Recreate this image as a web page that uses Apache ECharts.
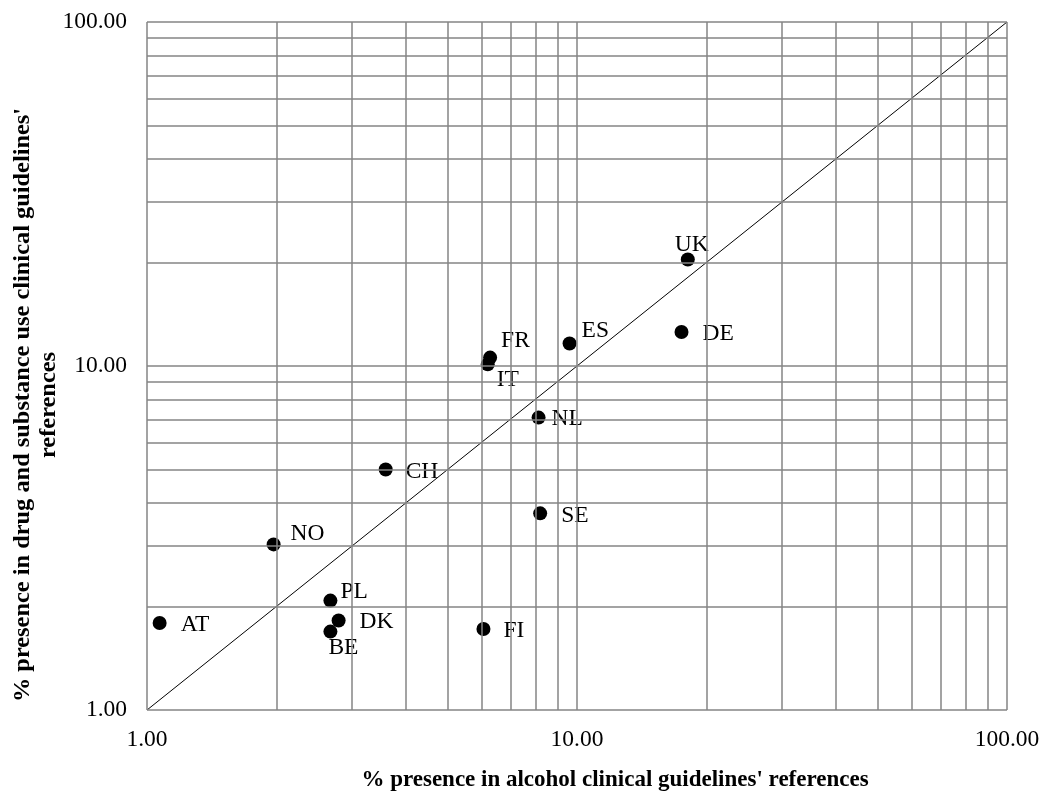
<!DOCTYPE html>
<html>
<head>
<meta charset="utf-8">
<script src="https://cdn.jsdelivr.net/npm/echarts@6/dist/echarts.min.js"></script>
<style>
html,body{margin:0;padding:0;background:#fff;}
#c{width:1045px;height:798px;}
</style>
</head>
<body>
<div id="c"></div>
<script>
// ---- data ----
const countries = ['UK','DE','ES','FR','IT','NL','CH','SE','NO','PL','DK','BE','AT','FI'];
const alcoholPct = [18.1, 17.5, 9.61, 6.28, 6.20, 8.14, 3.59, 8.21, 1.97, 2.67, 2.79, 2.67, 1.07, 6.06];
const drugPct    = [20.4, 12.56, 11.62, 10.58, 10.11, 7.08, 5.00, 3.73, 3.03, 2.08, 1.82, 1.69, 1.79, 1.72];
const diagonalX = [1, 100];
const diagonalY = [1, 100];
const gridValues = [1,2,3,4,5,6,7,8,9,10,20,30,40,50,60,70,80,90,100];
const xTitle = "% presence in alcohol clinical guidelines' references";
const yTitle = "% presence in drug and substance use clinical guidelines'\nreferences";

// ---- label placement (style, separate from data) ----
const labelOffset = {
  UK:[-13,-15], DE:[21,2], ES:[12,-13], FR:[11,-17], IT:[9,15], NL:[13,1],
  CH:[20,2], SE:[21,2], NO:[17,-11], PL:[10,-9], DK:[21,1], BE:[-2,16],
  AT:[21,2], FI:[20,2]
};

const FONT = "'Liberation Serif','Times New Roman',serif";
const GRID_COLOR = '#858585';

const points = countries.map((c, i) => ({
  value: [alcoholPct[i], drugPct[i]],
  name: c,
  label: {offset: labelOffset[c]}
}));

const chart = echarts.init(document.getElementById('c'), null, {renderer: 'canvas'});
chart.setOption({
  animation: false,
  backgroundColor: '#fff',
  grid: {left: 147, right: 38, top: 22, bottom: 88, containLabel: false},
  xAxis: {
    type: 'log', logBase: 10, min: 1, max: 100,
    axisLine: {show: false}, axisTick: {show: false},
    splitLine: {show: false},
    axisLabel: {formatter: v => v.toFixed(2), fontFamily: FONT, fontSize: 23.5, color: '#000', margin: 18}
  },
  yAxis: {
    type: 'log', logBase: 10, min: 1, max: 100,
    axisLine: {show: false}, axisTick: {show: false},
    splitLine: {show: false},
    axisLabel: {formatter: v => v.toFixed(2), fontFamily: FONT, fontSize: 23.5, color: '#000', margin: 20}
  },
  graphic: [
    {type: 'text', x: 615, y: 780,
     style: {text: xTitle, font: "bold 23px " + FONT, fill: '#000', textAlign: 'center', textVerticalAlign: 'middle'}},
    {type: 'text', x: 36, y: 405, rotation: Math.PI / 2, scaleX: 1.06,
     style: {text: yTitle, font: "bold 23px " + FONT, fill: '#000', textAlign: 'center', textVerticalAlign: 'middle', lineHeight: 26}}
  ],
  series: [
    {
      type: 'line', silent: true, symbol: 'none',
      data: [],
      markLine: {
        silent: true, symbol: 'none', animation: false,
        label: {show: false},
        lineStyle: {color: GRID_COLOR, width: 1.5, type: 'solid', opacity: 1},
        emphasis: {disabled: true},
        data: gridValues.map(v => ({xAxis: v})).concat(gridValues.map(v => ({yAxis: v})))
      }
    },
    {
      type: 'line', silent: true, symbol: 'none',
      lineStyle: {color: '#000', width: 1},
      data: diagonalX.map((x, i) => [x, diagonalY[i]]),
      z: 3
    },
    {
      type: 'scatter', symbol: 'circle', symbolSize: 14,
      itemStyle: {color: '#000', opacity: 1},
      data: points,
      z: 4,
      label: {
        show: true, position: 'inside', align: 'left', verticalAlign: 'middle',
        formatter: p => p.name,
        fontFamily: FONT, fontSize: 23.5, color: '#000'
      }
    }
  ]
});
</script>
</body>
</html>
